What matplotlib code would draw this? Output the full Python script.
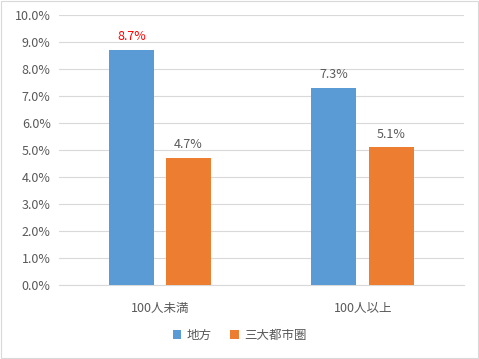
import numpy as np
import matplotlib.pyplot as plt
from matplotlib.patches import Rectangle

plt.rcParams['font.family'] = ['Noto Sans CJK JP', 'DejaVu Sans']

categories = ['100人未満', '100人以上']
series = ['地方', '三大都市圏']
local = [8.7, 7.3]
metro = [4.7, 5.1]
colors = ['#5B9BD5', '#ED7D31']
label_colors = [['#FF0000', '#595959'], ['#595959', '#595959']]

fig = plt.figure(figsize=(4.79, 3.59), dpi=100)
ax = fig.add_axes([59/479, 1 - 285/359, 405/479, 270/359])

x = np.arange(len(categories))
w = 0.222
offs = [-0.143, 0.140]
for i, (vals, name) in enumerate(zip([local, metro], series)):
    bars = ax.bar(x + offs[i], vals, width=w, color=colors[i], label=name, zorder=3)
    for j, b in enumerate(bars):
        ax.text(b.get_x() + b.get_width() / 2, vals[j] + 0.25, f'{vals[j]:.1f}%',
                ha='center', va='bottom', fontsize=9, color=label_colors[i][j])

ax.set_xlim(-0.5, 1.5)
ax.set_ylim(0, 10)
ax.set_yticks(np.arange(0, 11, 1))
ax.set_yticklabels([f'{v:.1f}%' for v in range(11)])
ax.set_xticks(x)
ax.set_xticklabels(categories)
ax.grid(axis='y', color='#D9D9D9', linewidth=0.8, zorder=0)
for s in ['top', 'right', 'left']:
    ax.spines[s].set_visible(False)
ax.spines['bottom'].set_color('#D9D9D9')
ax.tick_params(axis='both', length=0, labelsize=9, labelcolor='#595959')
ax.tick_params(axis='x', pad=12)
ax.tick_params(axis='y', pad=6)

fig.legend(loc='center', bbox_to_anchor=(0.5, 1 - 335/359), ncol=2, frameon=False,
           fontsize=9, labelcolor='#595959', handlelength=0.7, handleheight=0.7,
           columnspacing=1.5, handletextpad=0.4)

fig.patches.append(Rectangle((0.002, 0.002), 0.996, 0.996, transform=fig.transFigure,
                             fill=False, edgecolor='#D9D9D9', linewidth=0.8))

fig.savefig('out.png', dpi=100)
